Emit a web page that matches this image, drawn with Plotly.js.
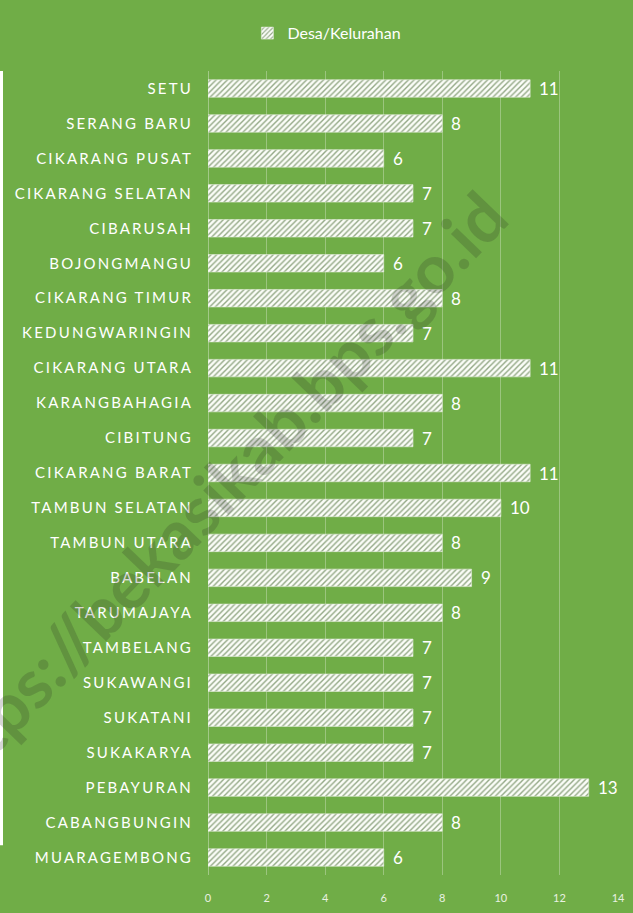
<!DOCTYPE html>
<html>
<head>
<meta charset="utf-8">
<script src="https://cdn.plot.ly/plotly-3.0.1.min.js"></script>
<style>
  html, body { margin: 0; padding: 0; background: #70AD47; }
  #chart { width: 633px; height: 913px; }
  .ytick text { letter-spacing: 2.2px; }
</style>
</head>
<body>
<div id="chart"></div>
<script>
// Data (top to bottom as shown)
const kecamatan = [
  "SETU", "SERANG BARU", "CIKARANG PUSAT", "CIKARANG SELATAN", "CIBARUSAH",
  "BOJONGMANGU", "CIKARANG TIMUR", "KEDUNGWARINGIN", "CIKARANG UTARA",
  "KARANGBAHAGIA", "CIBITUNG", "CIKARANG BARAT", "TAMBUN SELATAN",
  "TAMBUN UTARA", "BABELAN", "TARUMAJAYA", "TAMBELANG", "SUKAWANGI",
  "SUKATANI", "SUKAKARYA", "PEBAYURAN", "CABANGBUNGIN", "MUARAGEMBONG"
];
const desaKelurahan = [11, 8, 6, 7, 7, 6, 8, 7, 11, 8, 7, 11, 10, 8, 9, 8, 7, 7, 7, 7, 13, 8, 6];
const seriesName = "Desa/Kelurahan";
const xTicks = [0, 2, 4, 6, 8, 10, 12, 14];
const watermark = "https://bekasikab.bps.go.id";

const GREEN = "#70AD47";
const FONT = "Lato, 'Open Sans', sans-serif";

const trace = {
  type: "bar",
  orientation: "h",
  name: seriesName,
  x: desaKelurahan,
  y: kecamatan,
  marker: {
    color: "#ffffff",
    line: { color: "#e4ecdc", width: 0.6 },
    pattern: { shape: "/", fgcolor: "#93a886", bgcolor: "#fbfdf8", size: 4, solidity: 0.35 }
  },
  hoverinfo: "x+y",
  showlegend: true
};

const valueLabels = desaKelurahan.map((v, i) => ({
  x: v, y: kecamatan[i], xref: "x", yref: "y",
  text: String(v), showarrow: false, xanchor: "left", xshift: 7,
  font: { family: FONT, size: 17, color: "#ffffff" }
}));

const wm = {
  xref: "paper", yref: "paper", x: 0.01, y: 0.474,
  text: "<b>" + watermark + "</b>", showarrow: false, textangle: -46,
  xanchor: "center", yanchor: "middle",
  font: { family: FONT, size: 68, color: "rgba(30,30,30,0.19)" }
};

const layout = {
  width: 633, height: 913,
  margin: { l: 208, r: 15, t: 71, b: 38 },
  paper_bgcolor: GREEN,
  plot_bgcolor: GREEN,
  font: { family: FONT, color: "#ffffff" },
  bargap: 0.5,
  showlegend: true,
  legend: {
    orientation: "h", x: 0.29, xanchor: "center", y: 1.047, yanchor: "middle",
    font: { family: FONT, size: 16, color: "#ffffff" },
    bgcolor: "rgba(0,0,0,0)"
  },
  xaxis: {
    range: [0, 14], tickvals: xTicks, ticktext: xTicks.map(String),
    showgrid: true, gridcolor: "rgba(255,255,255,0.3)", gridwidth: 1,
    zeroline: true, zerolinecolor: "rgba(255,255,255,0.35)", zerolinewidth: 1,
    showline: false,
    ticks: "outside", ticklen: 13, tickcolor: "rgba(0,0,0,0)",
    tickfont: { family: FONT, size: 11, color: "#e9f1e2" },
    fixedrange: true
  },
  yaxis: {
    type: "category", categoryorder: "array", categoryarray: kecamatan,
    autorange: "reversed",
    showgrid: false, zeroline: false, showline: false,
    ticks: "", ticklabelstandoff: 14,
    tickfont: { family: FONT, size: 15, color: "#ffffff" },
    automargin: false, fixedrange: true
  },
  shapes: [{
    type: "rect", xref: "paper", yref: "paper",
    x0: -0.508, x1: -0.5, y0: 0.037, y1: 1.0,
    fillcolor: "#ffffff", line: { width: 0 }, layer: "above"
  }],
  annotations: valueLabels.concat([wm])
};

Plotly.newPlot("chart", [trace], layout, { displayModeBar: false, staticPlot: true });
</script>
</body>
</html>
